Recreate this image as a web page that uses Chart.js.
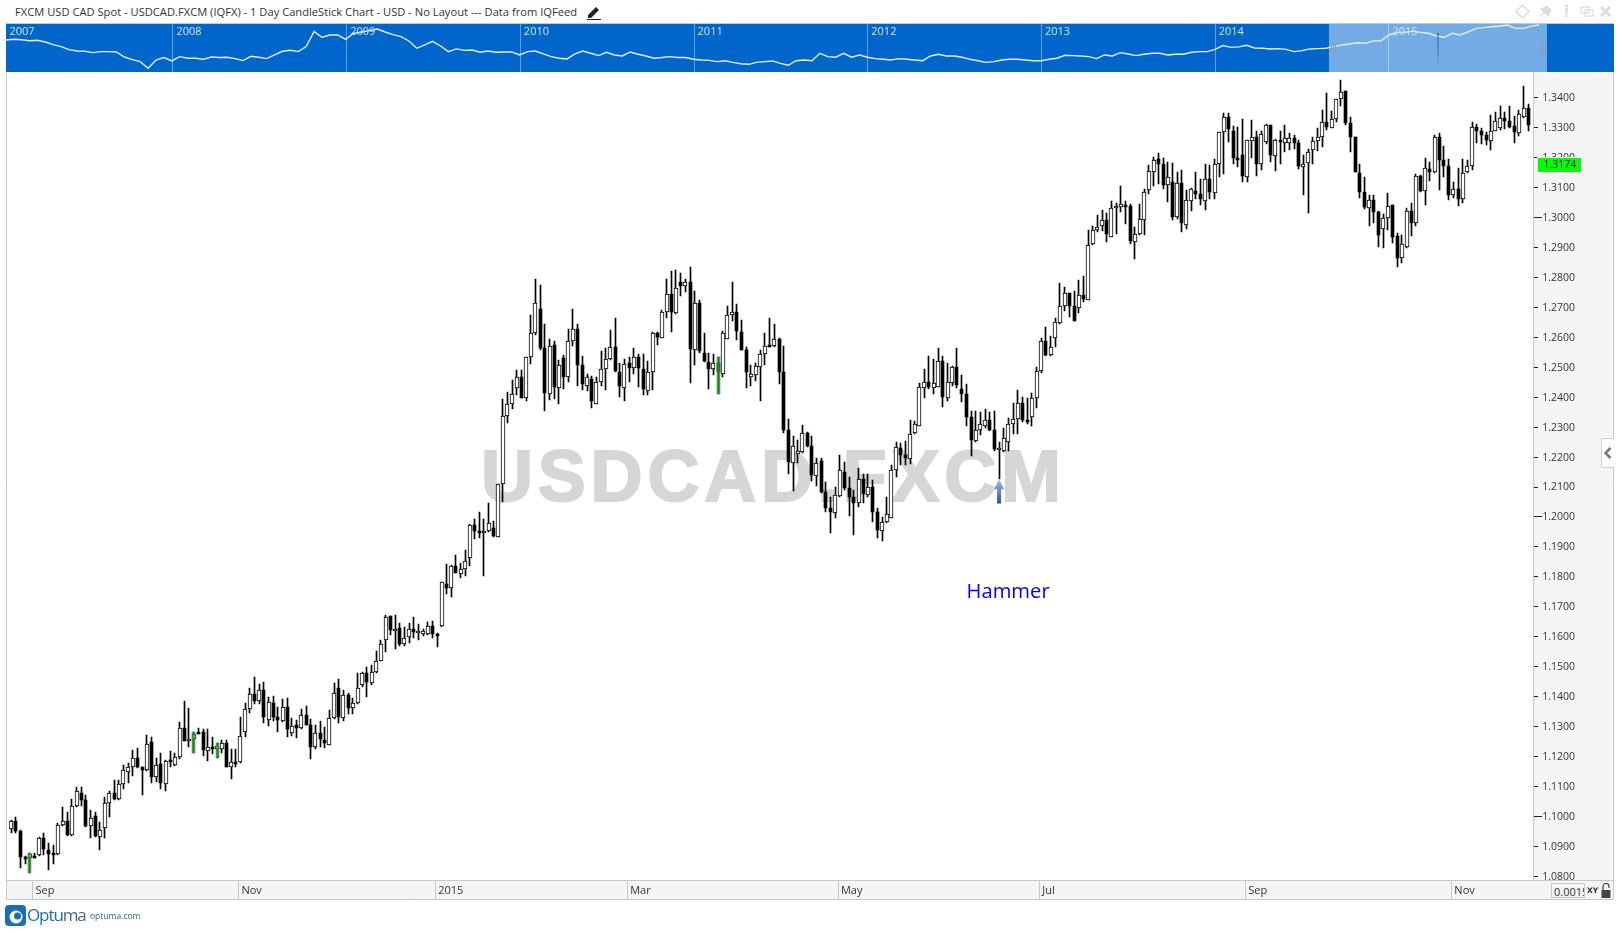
<!DOCTYPE html>
<html>
<head>
<meta charset="utf-8">
<title>USDCAD</title>
<script src="https://cdn.jsdelivr.net/npm/chart.js@4"></script>
<style>
    html, body { margin: 0; padding: 0; background: #fff; overflow: hidden; }
    body { width: 1620px; height: 932px; position: relative; font-family: "Open Sans", sans-serif; color: #333; }
    #title { position: absolute; left: 15px; top: 4px; font-size: 11.17px; line-height: 16px; white-space: nowrap; }
    #pencil { position: absolute; left: 586px; top: 4px; }
    #icons { position: absolute; left: 1510px; top: 2px; }
    #watermark { position: absolute; left: 481px; top: 430px; font: bold 72px "Liberation Sans", sans-serif; letter-spacing: 4.8px; line-height: 92px; color: #d6d6d6; -webkit-text-stroke: 2px #d6d6d6; white-space: nowrap; }
    #mainChart { position: absolute; left: 0; top: 0; width: 1620px; height: 932px; }
    #navWrap { position: absolute; left: 6px; top: 24px; width: 1608px; height: 48px; }
    #topLine { position: absolute; left: 6px; top: 23px; width: 1608px; height: 1px; background: #c8c8c8; }
    #tab { position: absolute; left: 1601px; top: 438px; width: 12px; height: 28px; background: #fff; border: 1px solid #d0d0d0; border-right: 0; border-radius: 2px 0 0 2px; }
    #scaleBox { position: absolute; left: 1551px; top: 883px; height: 15px; border: 1px solid #c8c8c8; background: #f5f5f5; font-size: 11px; line-height: 15px; padding-left: 2px; box-sizing: border-box; overflow: hidden; white-space: nowrap; width: 34px; }
    #xy { position: absolute; left: 1587px; top: 886px; font: bold 7.5px "DejaVu Sans", sans-serif; color: #333; line-height: 10px; }
    #lock { position: absolute; left: 1601px; top: 883px; }
    #logoIcon { position: absolute; left: 5px; top: 905px; }
    #logoText { position: absolute; left: 27px; top: 903px; font-size: 17px; line-height: 24px; letter-spacing: -1.1px; color: #1b6db5; white-space: nowrap; }
    #logoText span { color: #4f6478; }
    #logoSite { position: absolute; left: 90px; top: 909px; font-size: 8.5px; line-height: 14px; color: #2d6496; white-space: nowrap; }
</style>
</head>
<body>
<div id="title">FXCM USD CAD Spot - USDCAD.FXCM (IQFX) - 1 Day CandleStick Chart - USD - No Layout --- Data from IQFeed</div>
<svg id="pencil" width="16" height="16" viewBox="0 0 16 16">
    <path d="M2 11 L10 3 L13 6 L5 14 L2 14 Z" fill="#222"/>
    <path d="M1 15.5 H15" stroke="#222" stroke-width="1"/>
</svg>
<svg id="icons" width="104" height="18" viewBox="0 0 104 18" fill="none" stroke="#dcdcdc">
    <path d="M12.5 3 L19 9.500 L12.5 16 L6 9.500 Z" stroke-width="1.5"/>
    <path d="M29 15 L34 10 L31 7 L37 4 L41 8 L38 14 L35 11" fill="#dcdcdc" stroke-width="1"/>
    <path d="M55 7 H57 L56 15" stroke-width="2"/>
    <circle cx="56.500" cy="4" r="1.200" fill="#dcdcdc"/>
    <rect x="71" y="5" width="8" height="6" stroke-width="1.200"/>
    <rect x="75" y="8" width="8" height="6" stroke-width="1.200"/>
    <path d="M91 5 L100 14 M100 5 L91 14" stroke-width="3"/>
</svg>
<div id="watermark">USDCAD.FXCM</div>
<canvas id="mainChart" width="1620" height="932"></canvas>
<div id="topLine"></div>
<div id="navWrap"><canvas id="navChart" width="1608" height="48"></canvas></div>
<div id="tab">
    <svg width="12" height="28" viewBox="0 0 12 28"><path d="M8.500 9 L3.500 14 L8.500 19" fill="none" stroke="#777" stroke-width="2.500"/></svg>
</div>
<div id="scaleBox">0.0015</div>
<div id="xy">XY</div>
<svg id="lock" width="10" height="15" viewBox="0 0 10 15">
    <path d="M2 7 V3.500 A3 3 0 0 1 8 3.500 V5" fill="none" stroke="#444" stroke-width="1.200"/>
    <rect x="0.500" y="7" width="9" height="8" fill="#444"/>
</svg>
<svg id="logoIcon" width="22" height="22" viewBox="0 0 22 22">
    <rect width="21" height="21" rx="4" fill="#1b6db5"/>
    <circle cx="11" cy="12" r="6.500" fill="#fff"/>
    <circle cx="12.500" cy="11" r="3.500" fill="#1b6db5"/>
</svg>
<div id="logoText">Optu<span>ma</span></div>
<div id="logoSite">optuma.com</div>

<script>
// daily USDCAD bars
const opens = [
    1.0958,1.0983,1.0950,1.0865,1.0859,1.0867,1.0869,1.0926,1.0887,1.0876,
    1.0872,1.0969,1.0983,1.0936,1.1033,1.1076,1.1053,1.0966,1.0999,1.0931,
    1.0959,1.1043,1.1076,1.1056,1.1106,1.1146,1.1163,1.1193,1.1164,1.1153,
    1.1246,1.1129,1.1173,1.1106,1.1187,1.1170,1.1196,1.1293,1.1250,1.1256,
    1.1280,1.1280,1.1218,1.1230,1.1225,1.1225,1.1243,1.1163,1.1181,1.1180,
    1.1282,1.1356,1.1407,1.1383,1.1420,1.1320,1.1378,1.1330,1.1316,1.1363,
    1.1276,1.1303,1.1293,1.1336,1.1303,1.1230,1.1276,1.1253,1.1238,1.1326,
    1.1427,1.1326,1.1403,1.1360,1.1377,1.1437,1.1478,1.1443,1.1480,1.1517,
    1.1586,1.1667,1.1618,1.1627,1.1573,1.1598,1.1623,1.1613,1.1608,1.1608,
    1.1633,1.1609,1.1633,1.1776,1.1760,1.1833,1.1809,1.1826,1.1860,1.1970,
    1.1951,1.1947,1.1952,1.1963,1.1932,1.2110,1.2334,1.2377,1.2430,1.2467,
    1.2396,1.2531,1.2614,1.2691,1.2561,1.2410,1.2571,1.2430,1.2528,1.2464,
    1.2584,1.2627,1.2504,1.2437,1.2460,1.2377,1.2450,1.2491,1.2527,1.2564,
    1.2481,1.2430,1.2511,1.2497,1.2531,1.2491,1.2420,1.2481,1.2611,1.2597,
    1.2684,1.2741,1.2680,1.2784,1.2769,1.2784,1.2557,1.2711,1.2547,1.2517,
    1.2491,1.2513,1.2476,1.2593,1.2671,1.2681,1.2617,1.2554,1.2464,1.2473,
    1.2499,1.2541,1.2572,1.2570,1.2592,1.2483,1.2289,1.2180,1.2207,1.2216,
    1.2278,1.2235,1.2136,1.2184,1.2081,1.2027,1.2013,1.2069,1.2148,1.2094,
    1.2064,1.2044,1.2124,1.2073,1.2098,1.2014,1.1953,1.1980,1.1996,1.2154,
    1.2228,1.2205,1.2193,1.2278,1.2303,1.2430,1.2448,1.2430,1.2433,1.2518,
    1.2397,1.2445,1.2498,1.2424,1.2408,1.2331,1.2251,1.2288,1.2303,1.2322,
    1.2288,1.2222,1.2220,1.2248,1.2307,1.2324,1.2379,1.2322,1.2331,1.2397,
    1.2487,1.2586,1.2538,1.2594,1.2645,1.2701,1.2745,1.2703,1.2697,1.2738,
    1.2724,1.2908,1.2955,1.2968,1.2989,1.2934,1.3029,1.3032,1.3040,1.3037,
    1.2917,1.2942,1.2988,1.3088,1.3151,1.3194,1.3177,1.3105,1.3116,1.2998,
    1.3112,1.2974,1.3054,1.3087,1.3076,1.3053,1.3126,1.3081,1.3178,1.3282,
    1.3332,1.3288,1.3195,1.3208,1.3134,1.3254,1.3265,1.3175,1.3249,1.3305,
    1.3204,1.3255,1.3247,1.3247,1.3262,1.3245,1.3167,1.3181,1.3224,1.3252,
    1.3267,1.3318,1.3297,1.3327,1.3394,1.3420,1.3313,1.3267,1.3145,1.3083,
    1.3031,1.3055,1.3016,1.2958,1.2995,1.3039,1.2936,1.2862,1.2898,1.3018,
    1.2978,1.3135,1.3085,1.3160,1.3149,1.3266,1.3190,1.3169,1.3072,1.3092,
    1.3059,1.3149,1.3169,1.3299,1.3287,1.3272,1.3252,1.3288,1.3298,1.3330,
    1.3319,1.3303,1.3281,1.3332,1.3362
];
const highs = [
    1.0987,1.0996,1.0954,1.0867,1.0876,1.0876,1.0931,1.0942,1.0909,1.0904,
    1.0976,1.1029,1.1014,1.1057,1.1097,1.1097,1.1070,1.1020,1.1015,1.0979,
    1.1065,1.1085,1.1121,1.1121,1.1170,1.1176,1.1221,1.1226,1.1165,1.1271,
    1.1263,1.1193,1.1210,1.1187,1.1218,1.1210,1.1313,1.1384,1.1360,1.1281,
    1.1293,1.1290,1.1291,1.1263,1.1245,1.1254,1.1254,1.1224,1.1223,1.1330,
    1.1377,1.1427,1.1463,1.1441,1.1447,1.1399,1.1401,1.1365,1.1390,1.1393,
    1.1326,1.1321,1.1356,1.1368,1.1323,1.1304,1.1316,1.1296,1.1354,1.1443,
    1.1458,1.1421,1.1412,1.1393,1.1477,1.1482,1.1499,1.1505,1.1552,1.1589,
    1.1671,1.1667,1.1671,1.1646,1.1632,1.1643,1.1663,1.1641,1.1626,1.1648,
    1.1650,1.1612,1.1782,1.1841,1.1838,1.1871,1.1843,1.1888,1.1975,1.1991,
    1.2015,1.1991,1.2044,1.1985,1.2110,1.2392,1.2417,1.2455,1.2488,1.2488,
    1.2533,1.2674,1.2794,1.2772,1.2642,1.2591,1.2585,1.2522,1.2538,1.2625,
    1.2694,1.2644,1.2535,1.2474,1.2468,1.2464,1.2552,1.2561,1.2622,1.2661,
    1.2511,1.2527,1.2531,1.2561,1.2542,1.2542,1.2518,1.2615,1.2616,1.2689,
    1.2794,1.2820,1.2822,1.2813,1.2794,1.2831,1.2753,1.2722,1.2614,1.2544,
    1.2542,1.2531,1.2619,1.2703,1.2781,1.2708,1.2655,1.2566,1.2504,1.2511,
    1.2555,1.2611,1.2664,1.2644,1.2594,1.2569,1.2324,1.2269,1.2255,1.2304,
    1.2282,1.2269,1.2194,1.2194,1.2114,1.2066,1.2099,1.2205,1.2181,1.2133,
    1.2088,1.2161,1.2142,1.2142,1.2122,1.2027,1.1999,1.2066,1.2172,1.2250,
    1.2246,1.2253,1.2322,1.2319,1.2445,1.2491,1.2536,1.2525,1.2561,1.2536,
    1.2511,1.2502,1.2561,1.2472,1.2442,1.2352,1.2352,1.2347,1.2358,1.2350,
    1.2352,1.2248,1.2294,1.2328,1.2378,1.2422,1.2400,1.2394,1.2411,1.2500,
    1.2595,1.2631,1.2602,1.2662,1.2778,1.2766,1.2745,1.2753,1.2790,1.2803,
    1.2956,1.2970,1.3007,1.3023,1.3012,1.3053,1.3046,1.3103,1.3053,1.3043,
    1.2965,1.3043,1.3092,1.3174,1.3199,1.3212,1.3196,1.3182,1.3179,1.3149,
    1.3157,1.3090,1.3096,1.3149,1.3127,1.3176,1.3172,1.3193,1.3282,1.3348,
    1.3345,1.3303,1.3299,1.3326,1.3256,1.3323,1.3286,1.3286,1.3309,1.3305,
    1.3259,1.3286,1.3308,1.3280,1.3273,1.3256,1.3206,1.3228,1.3266,1.3295,
    1.3356,1.3415,1.3353,1.3395,1.3456,1.3420,1.3333,1.3267,1.3177,1.3133,
    1.3073,1.3072,1.3020,1.3010,1.3080,1.3039,1.2947,1.2939,1.3029,1.3045,
    1.3142,1.3140,1.3195,1.3182,1.3272,1.3280,1.3237,1.3193,1.3116,1.3162,
    1.3193,1.3190,1.3316,1.3309,1.3298,1.3284,1.3340,1.3349,1.3369,1.3349,
    1.3369,1.3335,1.3357,1.3437,1.3377
];
const lows = [
    1.0945,1.0945,1.0828,1.0840,1.0811,1.0859,1.0867,1.0870,1.0820,1.0840,
    1.0870,1.0967,1.0935,1.0935,1.1029,1.1034,1.0965,1.0928,1.0931,1.0887,
    1.0928,1.0998,1.1054,1.1054,1.1092,1.1109,1.1134,1.1161,1.1070,1.1151,
    1.1112,1.1115,1.1092,1.1082,1.1165,1.1167,1.1190,1.1249,1.1230,1.1212,
    1.1275,1.1202,1.1185,1.1207,1.1195,1.1212,1.1164,1.1123,1.1165,1.1178,
    1.1265,1.1343,1.1373,1.1374,1.1311,1.1301,1.1318,1.1282,1.1314,1.1265,
    1.1267,1.1261,1.1291,1.1303,1.1192,1.1225,1.1232,1.1228,1.1236,1.1323,
    1.1312,1.1318,1.1341,1.1341,1.1375,1.1430,1.1399,1.1438,1.1477,1.1516,
    1.1548,1.1604,1.1557,1.1567,1.1569,1.1578,1.1596,1.1587,1.1602,1.1605,
    1.1595,1.1565,1.1632,1.1741,1.1732,1.1810,1.1795,1.1801,1.1834,1.1926,
    1.1929,1.1801,1.1949,1.1932,1.1932,1.2049,1.2312,1.2358,1.2405,1.2394,
    1.2386,1.2508,1.2605,1.2557,1.2353,1.2388,1.2392,1.2375,1.2425,1.2449,
    1.2568,1.2436,1.2422,1.2418,1.2363,1.2375,1.2435,1.2422,1.2522,1.2481,
    1.2399,1.2386,1.2449,1.2475,1.2433,1.2407,1.2405,1.2422,1.2573,1.2595,
    1.2662,1.2616,1.2675,1.2737,1.2750,1.2446,1.2505,1.2544,1.2516,1.2426,
    1.2472,1.2408,1.2466,1.2591,1.2653,1.2588,1.2555,1.2429,1.2436,1.2453,
    1.2386,1.2505,1.2566,1.2564,1.2442,1.2280,1.2142,1.2086,1.2177,1.2211,
    1.2233,1.2120,1.2103,1.2077,1.2015,1.1946,1.1995,1.2064,1.2088,1.2003,
    1.1938,1.2033,1.2046,1.2066,1.1980,1.1929,1.1919,1.1979,1.1994,1.2131,
    1.2172,1.2172,1.2174,1.2275,1.2302,1.2397,1.2426,1.2409,1.2432,1.2367,
    1.2387,1.2437,1.2428,1.2383,1.2303,1.2203,1.2250,1.2272,1.2294,1.2286,
    1.2220,1.2124,1.2216,1.2219,1.2275,1.2274,1.2316,1.2309,1.2302,1.2362,
    1.2478,1.2536,1.2536,1.2564,1.2643,1.2686,1.2667,1.2653,1.2680,1.2716,
    1.2723,1.2905,1.2948,1.2954,1.2917,1.2933,1.2943,1.3017,1.2977,1.2909,
    1.2860,1.2941,1.2940,1.3077,1.3103,1.3110,1.3093,1.3048,1.2990,1.2992,
    1.2951,1.2959,1.3018,1.3059,1.3040,1.3024,1.3059,1.3060,1.3134,1.3142,
    1.3250,1.3176,1.3166,1.3117,1.3117,1.3197,1.3137,1.3156,1.3243,1.3184,
    1.3154,1.3177,1.3217,1.3223,1.3226,1.3159,1.3072,1.3013,1.3176,1.3219,
    1.3233,1.3289,1.3296,1.3316,1.3371,1.3306,1.3217,1.3149,1.3063,1.3026,
    1.2970,1.2981,1.2901,1.2895,1.2956,1.2914,1.2834,1.2847,1.2897,1.2937,
    1.2971,1.3082,1.3040,1.3120,1.3148,1.3090,1.3134,1.3056,1.3064,1.3037,
    1.3047,1.3148,1.3157,1.3248,1.3243,1.3240,1.3223,1.3287,1.3290,1.3293,
    1.3298,1.3248,1.3270,1.3331,1.3285
];
const closes = [
    1.0983,1.0951,1.0865,1.0862,1.0872,1.0865,1.0926,1.0889,1.0875,1.0872,
    1.0969,1.0983,1.0938,1.1034,1.1082,1.1054,1.0968,1.0993,1.0935,1.0952,
    1.1043,1.1076,1.1057,1.1106,1.1153,1.1163,1.1193,1.1163,1.1155,1.1240,
    1.1132,1.1170,1.1109,1.1184,1.1182,1.1196,1.1293,1.1252,1.1256,1.1273,
    1.1277,1.1222,1.1230,1.1227,1.1234,1.1243,1.1165,1.1180,1.1178,1.1266,
    1.1356,1.1407,1.1385,1.1420,1.1329,1.1381,1.1331,1.1320,1.1363,1.1290,
    1.1302,1.1295,1.1336,1.1305,1.1232,1.1276,1.1256,1.1243,1.1326,1.1410,
    1.1329,1.1403,1.1362,1.1377,1.1427,1.1477,1.1447,1.1480,1.1516,1.1573,
    1.1663,1.1621,1.1626,1.1574,1.1596,1.1623,1.1615,1.1618,1.1618,1.1633,
    1.1608,1.1606,1.1780,1.1762,1.1833,1.1812,1.1826,1.1853,1.1970,1.1952,
    1.1949,1.1953,1.1977,1.1934,1.2110,1.2334,1.2376,1.2410,1.2467,1.2396,
    1.2531,1.2614,1.2714,1.2563,1.2413,1.2570,1.2433,1.2504,1.2466,1.2584,
    1.2627,1.2507,1.2442,1.2464,1.2386,1.2450,1.2491,1.2527,1.2564,1.2487,
    1.2434,1.2509,1.2497,1.2531,1.2494,1.2424,1.2481,1.2613,1.2600,1.2684,
    1.2741,1.2684,1.2764,1.2770,1.2784,1.2560,1.2711,1.2552,1.2519,1.2493,
    1.2513,1.2481,1.2611,1.2671,1.2681,1.2620,1.2556,1.2483,1.2476,1.2501,
    1.2541,1.2570,1.2567,1.2591,1.2483,1.2289,1.2183,1.2235,1.2219,1.2278,
    1.2236,1.2138,1.2177,1.2081,1.2029,1.2016,1.2071,1.2154,1.2096,1.2066,
    1.2046,1.2124,1.2075,1.2097,1.2016,1.1955,1.1980,1.2007,1.2154,1.2231,
    1.2205,1.2196,1.2274,1.2308,1.2431,1.2448,1.2433,1.2445,1.2518,1.2400,
    1.2448,1.2498,1.2438,1.2410,1.2333,1.2254,1.2288,1.2308,1.2321,1.2290,
    1.2225,1.2228,1.2261,1.2308,1.2324,1.2378,1.2322,1.2316,1.2397,1.2486,
    1.2585,1.2539,1.2565,1.2648,1.2703,1.2745,1.2703,1.2654,1.2738,1.2726,
    1.2905,1.2955,1.2965,1.2989,1.2944,1.3029,1.3037,1.3042,1.3038,1.2921,
    1.2942,1.2992,1.3082,1.3152,1.3189,1.3178,1.3108,1.3132,1.3001,1.3112,
    1.2978,1.3056,1.3092,1.3077,1.3058,1.3126,1.3083,1.3178,1.3282,1.3332,
    1.3292,1.3197,1.3194,1.3137,1.3255,1.3265,1.3177,1.3275,1.3305,1.3206,
    1.3255,1.3250,1.3262,1.3262,1.3247,1.3170,1.3178,1.3218,1.3252,1.3268,
    1.3318,1.3299,1.3325,1.3393,1.3418,1.3314,1.3268,1.3150,1.3084,1.3033,
    1.3055,1.3017,1.2941,1.2995,1.3035,1.2934,1.2864,1.2908,1.3018,1.2981,
    1.3135,1.3087,1.3162,1.3151,1.3266,1.3191,1.3171,1.3074,1.3092,1.3061,
    1.3148,1.3169,1.3299,1.3288,1.3274,1.3258,1.3288,1.3319,1.3329,1.3321,
    1.3301,1.3284,1.3342,1.3362,1.3305
];

// bars the software marked in green, and the hammer bar
const greenBars = [4, 39, 44, 151];
const hammerBar = 211;
const hammerLabel = "Hammer";
const hammerLabelPrice = 1.1748;
const hammerArrowBottom = 1.2043;

// month labels on the time axis, and the first bar of each
const monthLabels = ["Sep", "Nov", "2015", "Mar", "May", "Jul", "Sep", "Nov"];
const monthBars = [5, 49, 91, 132, 177, 220, 264, 308];

const lastPrice = 1.3174;
const priceMin = 1.07866;
const priceMax = 1.34835;
const priceStep = 0.01;

// long history in the strip above the chart, one value about every 17 days
const navStart = 2007.038;
const navStep = 0.0455;
const navPrices = [
    1.170,1.177,1.173,1.163,1.167,1.150,1.124,1.105,1.076,1.064,1.061,1.049,1.058,1.058,1.055,1.010,.987,.970,.916,.984,
    1.005,.976,1.013,.999,.999,.990,1.010,1.005,1.008,.996,.979,1.016,1.008,.996,1.028,1.061,1.070,1.058,1.105,1.258,
    1.198,1.222,1.222,1.177,1.240,1.254,1.269,1.287,1.254,1.225,1.204,1.160,1.089,1.121,1.157,1.111,1.058,1.083,1.070,1.073,
    1.052,1.064,1.052,1.055,1.055,
    1.028,1.058,1.064,1.037,1.013,.999,.993,1.037,1.064,1.043,1.022,1.052,1.028,1.019,1.055,1.034,1.019,.999,1.005,1.013,
    1.005,1.005,.990,.984,.981,.970,.978,.964,.953,.948,.964,.970,.976,.956,.940,.978,.984,.978,1.043,1.013,
    1.008,1.043,1.008,1.028,1.008,.996,.990,.984,.996,.990,.984,.978,1.019,1.034,1.019,1.019,1.008,.990,.978,.964,
    .970,.984,.990,.990,.984,.978,.978,.990,.999,1.025,1.022,1.019,1.013,.996,1.028,1.019,1.049,1.037,1.022,1.034,
    1.043,1.043,1.028,1.034,1.034,1.052,1.058,1.058,1.079,1.115,1.098,1.102,1.118,1.092,1.089,1.083,1.086,1.079,1.058,1.067,
    1.083,1.086,1.089,
    1.105,1.121,1.130,1.143,1.137,1.160,1.163,1.222,1.250,1.250,1.261,1.250,1.240,1.211,1.198,1.240,1.222,1.254,1.294,1.302,
    1.313,1.320,1.332,1.294,1.294,1.320,1.332
];
const navYears = ["2007", "2008", "2009", "2010", "2011", "2012", "2013", "2014", "2015"];
const navMin = 2007.039;
const navMax = 2016.296;
const navPriceMin = 0.887;
const navPriceMax = 1.3438;
const navSelected = [2014.655, 2015.91];
const navSpike = [2015.283, 1.243, 0.926];

const categories = opens.map((o, i) => String(i));
categories.push("");

const wickData = highs.map((h, i) => [lows[i], h]);
const upData = opens.map((o, i) => closes[i] >= o ? [o, closes[i]] : null);
const downData = opens.map((o, i) => closes[i] < o ? [closes[i], o] : null);
const greenData = highs.map((h, i) => greenBars.includes(i) ? [lows[i], h] : null);

const PANEL_BG = "#f5f5f5";
const LINE_GREY = "#c8c8c8";

// bars land on fractional pixels, pull them on to the grid so candles stay crisp
const snapBars = {
    id: "snapBars",
    afterDatasetsUpdate(chart) {
        chart.data.datasets.forEach((ds, i) => {
            chart.getDatasetMeta(i).data.forEach(el => {
                el.x = ds.barThickness % 2 === 0 ? Math.round(el.x) : Math.floor(el.x) + 0.5;
                el.y = Math.round(el.y);
                el.base = Math.round(el.base);
                if (el.base - el.y < 2) el.base = el.y + 2;
                el.height = el.base - el.y;
            });
        });
    }
};

const chartFrame = {
    id: "chartFrame",
    beforeDraw(chart) {
        const ctx = chart.ctx;
        const area = chart.chartArea;
        const panelLeft = area.right - 2;
        ctx.save();
        ctx.fillStyle = PANEL_BG;
        ctx.fillRect(panelLeft, 72, 1614 - panelLeft, 827);
        ctx.fillRect(6, area.bottom, 1608, 899 - area.bottom);
        ctx.restore();
    },
    afterDatasetsDraw(chart) {
        const ctx = chart.ctx;
        const x = chart.scales.x.getPixelForValue(hammerBar);
        const y = chart.scales.y;
        const tip = y.getPixelForValue(lows[hammerBar]);
        const bottom = y.getPixelForValue(hammerArrowBottom);
        ctx.save();
        const grad = ctx.createLinearGradient(0, tip, 0, bottom);
        grad.addColorStop(0, "#9cc3ea");
        grad.addColorStop(1, "#2f4c8c");
        ctx.fillStyle = grad;
        ctx.beginPath();
        ctx.moveTo(x, tip);
        ctx.lineTo(x + 5, tip + 10);
        ctx.lineTo(x + 2, tip + 10);
        ctx.lineTo(x + 2, bottom);
        ctx.lineTo(x - 2, bottom);
        ctx.lineTo(x - 2, tip + 10);
        ctx.lineTo(x - 5, tip + 10);
        ctx.closePath();
        ctx.fill();
        ctx.fillStyle = "#0000ff";
        ctx.font = '20.2px "Open Sans"';
        ctx.textAlign = "center";
        ctx.textBaseline = "middle";
        ctx.fillText(hammerLabel, x + 9, y.getPixelForValue(hammerLabelPrice));
        ctx.restore();
    },
    afterDraw(chart) {
        const ctx = chart.ctx;
        const area = chart.chartArea;
        const xScale = chart.scales.x;
        const yScale = chart.scales.y;
        const panelLeft = Math.round(area.right - 2);
        const slot = xScale.getPixelForValue(1) - xScale.getPixelForValue(0);
        ctx.save();
        ctx.strokeStyle = LINE_GREY;
        ctx.lineWidth = 1;
        ctx.beginPath();
        ctx.moveTo(6.5, 72);
        ctx.lineTo(6.5, 899.5);
        ctx.lineTo(1613.5, 899.5);
        ctx.lineTo(1613.5, 72);
        ctx.moveTo(6, area.bottom + 0.5);
        ctx.lineTo(1614, area.bottom + 0.5);
        ctx.moveTo(panelLeft + 0.5, 72);
        ctx.lineTo(panelLeft + 0.5, area.bottom);
        monthBars.forEach(bar => {
            const px = Math.round(xScale.getPixelForValue(bar) - slot / 2) + 0.5;
            ctx.moveTo(px, area.bottom);
            ctx.lineTo(px, 899);
        });
        ctx.stroke();

        // round numbers get a longer tick
        ctx.strokeStyle = "#222";
        ctx.beginPath();
        yScale.ticks.forEach(t => {
            const py = Math.round(yScale.getPixelForValue(t.value)) + 0.5;
            const major = Math.round(t.value * 100) % 10 === 0;
            ctx.moveTo(panelLeft + 1, py);
            ctx.lineTo(panelLeft + (major ? 9 : 5), py);
        });
        ctx.stroke();

        // last price tag
        const tagY = Math.round(yScale.getPixelForValue(lastPrice));
        ctx.fillStyle = "#fff";
        ctx.fillRect(panelLeft + 4, tagY - 8, 45, 16);
        ctx.fillStyle = "#00ff00";
        ctx.fillRect(panelLeft + 5, tagY - 7, 43, 14);
        ctx.fillStyle = "#222";
        ctx.font = '10.5px "Open Sans"';
        ctx.textAlign = "left";
        ctx.textBaseline = "middle";
        ctx.fillText(lastPrice.toFixed(4), panelLeft + 10.5, tagY + 0.5);
        ctx.restore();
    }
};

new Chart(document.getElementById("mainChart"), {
    type: "bar",
    data: {
        labels: categories,
        datasets: [
            { label: "green", data: greenData, backgroundColor: "rgba(50,150,50,0.8)", barThickness: 3, order: 1, grouped: false },
            { label: "up", data: upData, backgroundColor: "#fff", borderColor: "#000", borderWidth: 1, borderSkipped: false, barThickness: 4, order: 2, grouped: false },
            { label: "down", data: downData, backgroundColor: "#000", barThickness: 3, order: 2, grouped: false },
            { label: "range", data: wickData, backgroundColor: "#000", barThickness: 1, order: 3, grouped: false }
        ]
    },
    options: {
        responsive: false,
        animation: false,
        layout: { padding: { left: 8.67, top: 72, right: 6, bottom: 33 } },
        plugins: { legend: { display: false }, tooltip: { enabled: false } },
        scales: {
            x: {
                position: "bottom",
                offset: true,
                grid: { display: false, drawTicks: false, tickLength: 0 },
                border: { display: false },
                afterBuildTicks(scale) {
                    scale.ticks = scale.ticks.filter(t => monthBars.includes(t.value));
                },
                afterFit(scale) { scale.height = 19; },
                ticks: {
                    autoSkip: false,
                    maxRotation: 0,
                    align: "start",
                    labelOffset: 1,
                    padding: 4,
                    color: "#333",
                    font: { family: "Open Sans", size: 11 },
                    callback: function (value) { return monthLabels[monthBars.indexOf(value)]; }
                }
            },
            y: {
                position: "right",
                min: priceMin,
                max: priceMax,
                grid: { display: false, drawTicks: false, tickLength: 0 },
                border: { display: false },
                afterFit(scale) { scale.width = 78.7; },
                ticks: {
                    stepSize: priceStep,
                    includeBounds: false,
                    autoSkip: false,
                    padding: 7,
                    labelOffset: 1,
                    color: "#333",
                    font: { family: "Open Sans", size: 10.5 },
                    callback: function (value) { return value.toFixed(4); }
                }
            }
        }
    },
    plugins: [snapBars, chartFrame]
});

const navFrame = {
    id: "navFrame",
    beforeDraw(chart) {
        const ctx = chart.ctx;
        const x = chart.scales.x;
        ctx.save();
        ctx.fillStyle = "#0066cc";
        ctx.fillRect(0, 0, chart.width, chart.height);
        ctx.fillStyle = "#73ace4";
        const left = x.getPixelForValue(navSelected[0]);
        ctx.fillRect(left, 0, x.getPixelForValue(navSelected[1]) - left, chart.height);
        ctx.restore();
    },
    afterDraw(chart) {
        const ctx = chart.ctx;
        const x = chart.scales.x;
        const y = chart.scales.y;
        ctx.save();
        ctx.fillStyle = "#d5e4f5";
        ctx.font = '11px "Open Sans"';
        ctx.textBaseline = "top";
        navYears.forEach(year => {
            ctx.fillText(year, Math.max(x.getPixelForValue(Number(year)), 0) + 3.5, 2);
        });

        // mark inside the selected range
        const spikeX = x.getPixelForValue(navSpike[0]);
        const spike = ctx.createLinearGradient(0, y.getPixelForValue(navSpike[1]), 0, y.getPixelForValue(navSpike[2]));
        spike.addColorStop(0, "#2f4668");
        spike.addColorStop(1, "rgba(47,70,104,0.1)");
        ctx.strokeStyle = spike;
        ctx.lineWidth = 1;
        ctx.beginPath();
        ctx.moveTo(spikeX, y.getPixelForValue(navSpike[1]));
        ctx.lineTo(spikeX, y.getPixelForValue(navSpike[2]));
        ctx.stroke();

        // drag handles at both ends of the range
        ctx.strokeStyle = "#8d9cb0";
        ctx.beginPath();
        navSelected.forEach((v, side) => {
            const base = x.getPixelForValue(v) + (side === 0 ? 2 : -6);
            [0.5, 2.5, 4.5].forEach(dx => {
                ctx.moveTo(Math.round(base) + dx, 19);
                ctx.lineTo(Math.round(base) + dx, 30);
            });
        });
        ctx.stroke();
        ctx.restore();
    }
};

new Chart(document.getElementById("navChart"), {
    type: "line",
    data: {
        datasets: [{
            data: navPrices.map((p, i) => ({ x: navStart + i * navStep, y: p })),
            borderColor: "#e3edf8",
            borderWidth: 1.4,
            pointRadius: 0,
            tension: 0
        }]
    },
    options: {
        responsive: false,
        animation: false,
        layout: { padding: 0 },
        plugins: { legend: { display: false }, tooltip: { enabled: false } },
        scales: {
            x: {
                type: "linear",
                min: navMin,
                max: navMax,
                afterBuildTicks(scale) {
                    scale.ticks = scale.ticks.filter(t => t.value <= 2015);
                },
                afterFit(scale) { scale.height = 0; },
                grid: { color: "rgba(255,255,255,0.38)", drawTicks: false },
                border: { display: false },
                ticks: { stepSize: 1, includeBounds: false, display: false }
            },
            y: {
                type: "logarithmic",
                min: navPriceMin,
                max: navPriceMax,
                display: false
            }
        }
    },
    plugins: [navFrame]
});
</script>
</body>
</html>
